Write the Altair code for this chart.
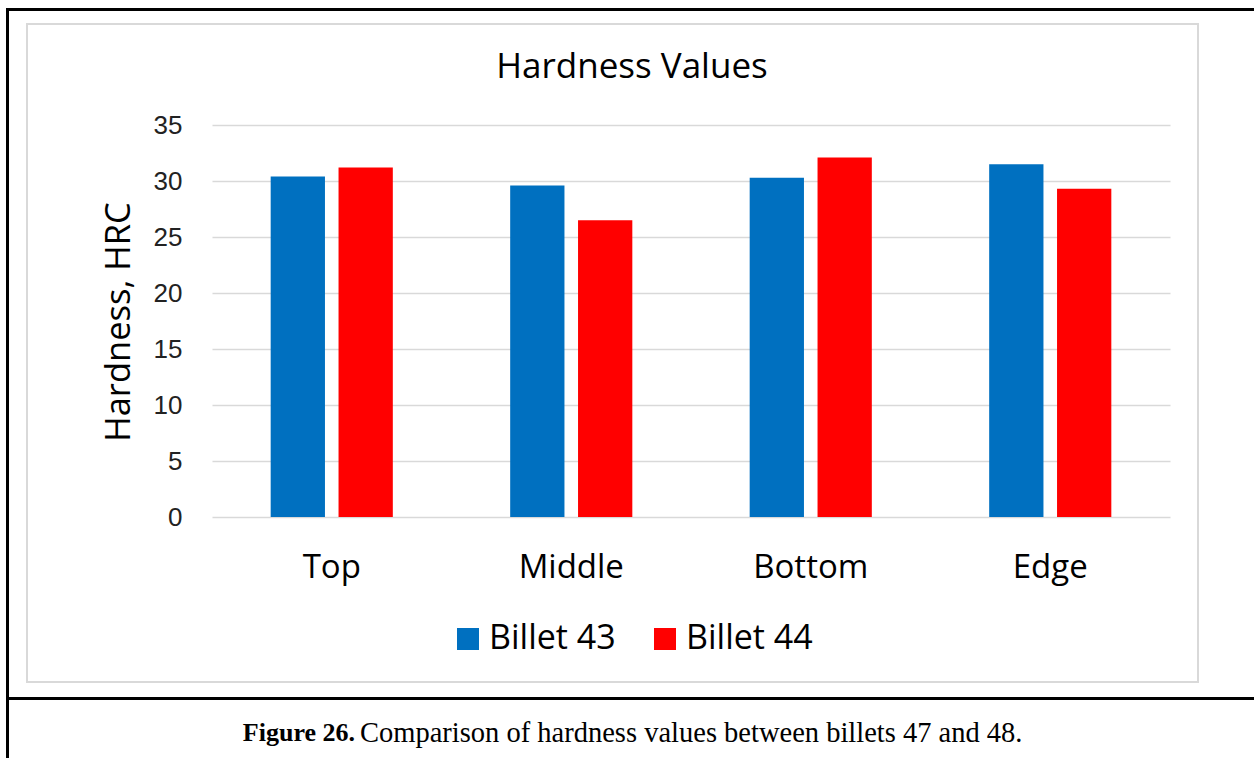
import altair as alt
import pandas as pd

categories = ["Top", "Middle", "Bottom", "Edge"]
billet_43 = [30.4, 29.6, 30.3, 31.5]
billet_44 = [31.2, 26.5, 32.1, 29.3]
series_names = ["Billet 43", "Billet 44"]
series_colors = ["#0070C0", "#FF0000"]
y_ticks = [0, 5, 10, 15, 20, 25, 30, 35]
chart_title = "Hardness Values"
y_title = "Hardness, HRC"
caption_bold = "Figure 26."
caption_rest = "Comparison of hardness values between billets 47 and 48."

rows = []
for c, a, b in zip(categories, billet_43, billet_44):
    rows.append({"cat": c, "series": series_names[0], "value": a})
    rows.append({"cat": c, "series": series_names[1], "value": b})
df = pd.DataFrame(rows)

X0, Y0 = 212, 125
W, H = 958, 392
SANS = "Open Sans"

bars = alt.Chart(df).mark_bar().encode(
    x=alt.X("cat:N", sort=categories, title=None,
            scale=alt.Scale(paddingInner=0.49, paddingOuter=0.245),
            axis=alt.Axis(labelAngle=0, domain=False, ticks=False, grid=False,
                          labelFont=SANS, labelFontSize=33, labelColor="#000000",
                          labelPadding=34)),
    xOffset=alt.XOffset("series:N", sort=series_names,
                        scale=alt.Scale(paddingInner=0.2, paddingOuter=0)),
    y=alt.Y("value:Q", title=None,
            scale=alt.Scale(domain=[0, 35], nice=False),
            axis=alt.Axis(values=y_ticks, domain=False, ticks=False,
                          gridColor="#d9d9d9", gridWidth=1.5,
                          labelFont="Liberation Sans", labelFontSize=26,
                          labelColor="#222222", labelPadding=30)),
    color=alt.Color("series:N", sort=series_names,
                    scale=alt.Scale(domain=series_names, range=series_colors),
                    legend=alt.Legend(title=None, orient="none", direction="horizontal",
                                      legendX=451 - X0, legendY=622 - Y0,
                                      symbolType="square", symbolSize=484,
                                      symbolStrokeWidth=0, labelFont=SANS,
                                      labelFontSize=34, labelColor="#000000",
                                      labelOffset=4, columnPadding=32, padding=0)),
)

one = pd.DataFrame({"t": [chart_title]})

title_txt = alt.Chart(pd.DataFrame({"t": [chart_title]})).mark_text(
    font=SANS, fontSize=35, color="#000000", align="center", baseline="middle"
).encode(text="t:N", x=alt.value(632 - X0), y=alt.value(67 - Y0))

ytitle_txt = alt.Chart(pd.DataFrame({"t": [y_title]})).mark_text(
    font=SANS, fontSize=34.5, color="#000000", align="center", baseline="middle", angle=270
).encode(text="t:N", x=alt.value(120 - X0), y=alt.value(322 - Y0))

cap1 = alt.Chart(pd.DataFrame({"t": [caption_bold]})).mark_text(
    font="Liberation Serif", fontSize=26, fontWeight="bold", color="#000000",
    align="right", baseline="middle"
).encode(text="t:N", x=alt.value(355 - X0), y=alt.value(733 - Y0))

cap2 = alt.Chart(pd.DataFrame({"t": [caption_rest]})).mark_text(
    font="Liberation Serif", fontSize=28.5, color="#000000",
    align="left", baseline="middle"
).encode(text="t:N", x=alt.value(360 - X0), y=alt.value(733 - Y0))

box = alt.Chart(one).mark_rect(fill=None, stroke="#d9d9d9", strokeWidth=2).encode(
    x=alt.value(27 - X0), x2=alt.value(1198 - X0),
    y=alt.value(24 - Y0), y2=alt.value(682 - Y0))

top_line = alt.Chart(one).mark_rule(color="#000000", strokeWidth=3).encode(
    x=alt.value(6 - X0), x2=alt.value(1254 - X0), y=alt.value(9.5 - Y0))
mid_line = alt.Chart(one).mark_rule(color="#000000", strokeWidth=3).encode(
    x=alt.value(6 - X0), x2=alt.value(1254 - X0), y=alt.value(698.5 - Y0))
left_line = alt.Chart(one).mark_rule(color="#000000", strokeWidth=3).encode(
    x=alt.value(7.5 - X0), y=alt.value(8 - Y0), y2=alt.value(758 - Y0))

chart = alt.layer(box, bars, title_txt, ytitle_txt, cap1, cap2,
                  top_line, mid_line, left_line).properties(
    width=W, height=H,
    autosize=alt.AutoSizeParams(type="none"),
    padding={"left": X0, "top": Y0, "right": 1254 - X0 - W, "bottom": 758 - Y0 - H},
    background="#ffffff",
).configure_view(stroke=None)

chart.save("out.html", embed_options={"renderer": "svg", "actions": False})
